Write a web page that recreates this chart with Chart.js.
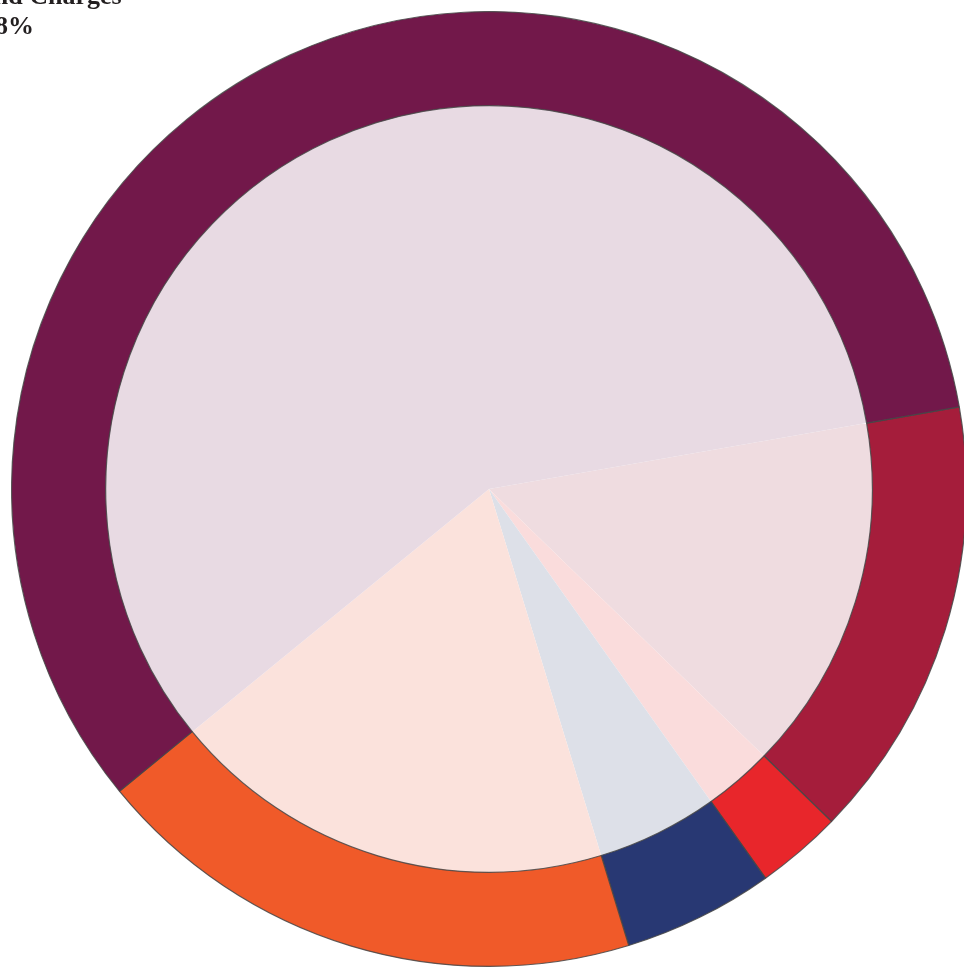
<!DOCTYPE html>
<html>
<head>
<meta charset="utf-8">
<script src="https://cdn.jsdelivr.net/npm/chart.js@4"></script>
<style>
  html, body { margin: 0; padding: 0; background: #ffffff; width: 964px; height: 969px; overflow: hidden; }
  #wrap { position: absolute; left: 11px; top: 11px; width: 956px; height: 956px; }
  #label {
    position: absolute; left: -142px; top: -19px; width: 300px;
    text-align: center; font-family: "Liberation Serif", "Times New Roman", serif;
    font-weight: bold; font-size: 26px; line-height: 30px; color: #231f20; z-index: 2;
  }
</style>
</head>
<body>
<div id="label">Tuition and Charges<br>58%</div>
<div id="wrap"><canvas id="c"></canvas></div>
<script>
// Data (clockwise, starting at the crimson slice)
const categories = ["Grants and Contracts", "Gifts", "Investment Income", "Other", "Tuition and Charges"];
const shareValues = [15.0, 2.9, 5.1, 18.8, 58.1];
const outerColors = ["#a51d3b", "#e8262b", "#283873", "#f05a29", "#72184a"];
const innerColors = ["#efdce0", "#fadcdc", "#dde0e8", "#fbe2dc", "#e8dae3"];

new Chart(document.getElementById('c'), {
  type: 'doughnut',
  data: {
    labels: categories,
    datasets: [
      {
        data: shareValues,
        backgroundColor: outerColors,
        borderColor: 'rgba(70,70,70,0.85)',
        borderWidth: 1.2,
        weight: 94
      },
      {
        data: shareValues,
        backgroundColor: innerColors,
        borderColor: innerColors,
        borderWidth: 0,
        weight: 383
      }
    ]
  },
  options: {
    responsive: true,
    maintainAspectRatio: false,
    animation: false,
    cutout: 0,
    rotation: 80.1,
    layout: { padding: 0 },
    events: [],
    plugins: {
      legend: { display: false },
      tooltip: { enabled: false },
      title: { display: false }
    }
  }
});
</script>
</body>
</html>
